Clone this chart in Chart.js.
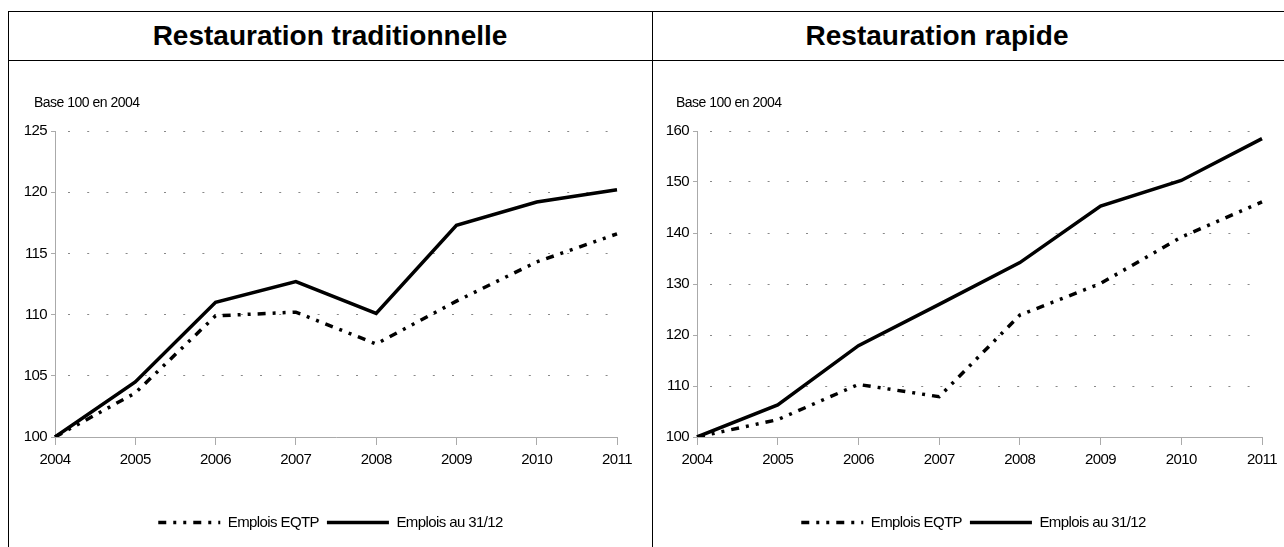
<!DOCTYPE html>
<html>
<head>
<meta charset="utf-8">
<script src="https://cdn.jsdelivr.net/npm/chart.js@4/dist/chart.umd.min.js"></script>
<style>
  html, body { margin: 0; padding: 0; background: #fff; overflow: hidden; width: 1284px; height: 547px; }
  .line { position: absolute; background: #000; }
  .title { position: absolute; top: 12px; height: 48px; text-align: center;
           font: bold 28px "Liberation Sans", Arial, sans-serif; line-height: 48px;
           color: #000; white-space: nowrap; }
  canvas { position: absolute; }
</style>
</head>
<body>
  <!-- table frame: outer left/top border, title separator and middle divider -->
  <div class="line" style="left:8px;top:11px;width:1px;height:600px"></div>
  <div class="line" style="left:8px;top:11px;width:1300px;height:1px"></div>
  <div class="line" style="left:8px;top:60px;width:1300px;height:1px"></div>
  <div class="line" style="left:652px;top:11px;width:1px;height:600px"></div>

  <div class="title" style="left:30px;width:600px">Restauration traditionnelle</div>
  <div class="title" style="left:637px;width:600px">Restauration rapide</div>

  <canvas id="c1" width="642" height="486" style="left:9px;top:61px"></canvas>
  <canvas id="c2" width="641" height="486" style="left:653px;top:61px"></canvas>

<script>
// Years on the x axis
const years = ['2004', '2005', '2006', '2007', '2008', '2009', '2010', '2011'];

// Series labels
const labelEqtp = 'Emplois EQTP';
const labelEmplois = 'Emplois au 31/12';
const baseText = 'Base 100 en 2004';

// Restauration traditionnelle (index, base 100 in 2004)
const tradEqtp    = [100, 103.6, 109.9, 110.2, 107.6, 111.1, 114.3, 116.6];
const tradEmplois = [100, 104.5, 111.0, 112.7, 110.1, 117.3, 119.2, 120.2];

// Restauration rapide (index, base 100 in 2004)
const rapEqtp    = [100, 103.4, 110.3, 107.9, 123.9, 130.1, 139.2, 146.1];
const rapEmplois = [100, 106.3, 117.9, 126.0, 134.2, 145.3, 150.3, 158.5];

// Value axis ranges
const tradAxis = { min: 100, max: 125, step: 5 };
const rapAxis  = { min: 100, max: 160, step: 10 };

const FONT = '"Liberation Sans", Arial, sans-serif';
const SPACING = '-0.6px';

// Tight letter spacing for canvas text, legend centring, and the "Base 100" note
const textPlugin = {
  id: 'baseNote',
  beforeUpdate(chart) { chart.ctx.letterSpacing = SPACING; },
  beforeLayout(chart) { chart.ctx.letterSpacing = SPACING; },
  afterLayout(chart, args, opts) {
    const lg = chart.legend;
    if (lg) {
      const d = opts.legendCenter - (lg.left + lg.right) / 2;
      lg.left += d;
      lg.right += d;
    }
  },
  beforeDraw(chart) { chart.ctx.letterSpacing = SPACING; },
  afterDraw(chart, args, opts) {
    const ctx = chart.ctx;
    ctx.save();
    ctx.font = '14px ' + FONT;
    ctx.letterSpacing = '-0.5px';
    ctx.fillStyle = '#000';
    ctx.textAlign = 'left';
    ctx.textBaseline = 'middle';
    ctx.fillText(opts.text, chart.chartArea.left + opts.dx, chart.chartArea.top + opts.dy);
    ctx.restore();
  }
};

// Legend samples drawn as short line strokes carrying each dataset's dash pattern
function lineLabels(chart) {
  const items = Chart.defaults.plugins.legend.labels.generateLabels(chart);
  return items.map((it) => {
    const ds = chart.data.datasets[it.datasetIndex];
    it.lineDash = ds.borderDash || [];
    it.lineWidth = ds.borderWidth;
    it.strokeStyle = ds.borderColor;
    it.fillStyle = ds.borderColor;
    it.lineCap = 'butt';
    it.pointStyle = 'line';
    return it;
  });
}

function makeChart(id, eqtp, emplois, axis, yWidth, padRight, legendCenter) {
  return new Chart(document.getElementById(id), {
    type: 'line',
    data: {
      labels: years,
      datasets: [
        {
          label: labelEqtp,
          data: eqtp,
          borderColor: '#000',
          backgroundColor: '#000',
          borderWidth: 3.5,
          borderDash: [8, 7, 3, 7, 3, 7],
          borderCapStyle: 'butt',
          pointRadius: 0,
          tension: 0,
          fill: false
        },
        {
          label: labelEmplois,
          data: emplois,
          borderColor: '#000',
          backgroundColor: '#000',
          borderWidth: 3.5,
          pointRadius: 0,
          tension: 0,
          fill: false
        }
      ]
    },
    options: {
      responsive: false,
      animation: false,
      devicePixelRatio: 1,
      layout: { padding: { top: 70, bottom: 7, left: 0, right: padRight } },
      plugins: {
        tooltip: { enabled: false },
        title: { display: false },
        legend: {
          display: true,
          position: 'bottom',
          align: 'center',
          labels: {
            usePointStyle: true,
            pointStyle: 'line',
            pointStyleWidth: 62,
            padding: 8,
            color: '#000',
            font: { family: FONT, size: 15 },
            generateLabels: lineLabels
          }
        },
        baseNote: { text: baseText, dx: -21, dy: -28, legendCenter: legendCenter }
      },
      scales: {
        x: {
          type: 'category',
          offset: false,
          grid: { display: true, drawOnChartArea: false, drawTicks: true, tickLength: 8, color: '#aaa', tickColor: '#aaa' },
          border: { display: true, color: '#aaa', width: 1 },
          ticks: { color: '#000', font: { family: FONT, size: 15 }, padding: 6, maxRotation: 0, autoSkip: false },
          afterFit(scale) { scale.height = 70; }
        },
        y: {
          min: axis.min,
          max: axis.max,
          ticks: { stepSize: axis.step, color: '#000', font: { family: FONT, size: 15 }, padding: 4 },
          grid: { color: '#888', lineWidth: 1, drawTicks: true, tickLength: 4, tickColor: '#aaa', tickBorderDash: [] },
          border: { display: true, color: '#aaa', width: 1, dash: [2, 17.2], dashOffset: 7.2 },
          afterFit(scale) { scale.width = yWidth; }
        }
      }
    },
    plugins: [textPlugin]
  });
}

makeChart('c1', tradEqtp, tradEmplois, tradAxis, 46, 34, 321.5);
makeChart('c2', rapEqtp, rapEmplois, rapAxis, 44, 32, 320.5);
</script>
</body>
</html>
